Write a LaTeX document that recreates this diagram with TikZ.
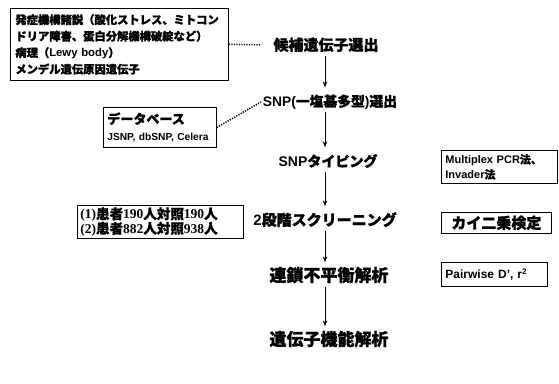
\documentclass[tikz,border=0pt]{standalone}
\usepackage{fontspec}
\setmainfont{Liberation Sans}
\newfontfamily\jp{Noto Sans CJK JP}[BoldFeatures={FakeBold=1.2}]
\newfontfamily\serifb{Liberation Serif}
\usetikzlibrary{arrows.meta}
\newcommand{\jtxt}[1]{{\jp\bfseries #1}}
\newcommand{\stxt}[1]{{\serifb\bfseries #1}}
\tikzset{
  mainlabel/.style={font=\bfseries\fontsize{15}{15}\selectfont, inner sep=0pt,
    text height=13pt, text depth=2pt},
  infobox/.style={draw, line width=0.8pt, inner xsep=4pt, inner ysep=2pt,
    align=left, anchor=north west, font=\bfseries},
  arr/.style={-{Stealth[length=6pt,width=4.5pt]}, line width=0.6pt,
    shorten <=3pt, shorten >=6pt},
  dotline/.style={line width=1.5pt, dash pattern=on 1.2pt off 1.3pt}
}
\begin{document}
\begin{tikzpicture}[x=1pt,y=-1pt]
\useasboundingbox (0,0) rectangle (559,383);
\coordinate (ax) at (325,0);
% main chain
\node[mainlabel] (n1) at (326,45) {\jtxt{候補遺伝子選出}};
\node[mainlabel, font=\bfseries\fontsize{13.8}{14}\selectfont] (n2) at (330,101) {SNP(\jtxt{一塩基多型})\jtxt{選出}};
\node[mainlabel, font=\bfseries\fontsize{14}{14}\selectfont] (n3) at (328,161) {SNP\jtxt{タイピング}};
\node[mainlabel] (n4) at (325,220) {2\jtxt{段階スクリーニング}};
\node[mainlabel, font=\bfseries\fontsize{17}{17}\selectfont] (n5) at (329,276) {\jtxt{連鎖不平衡解析}};
\node[mainlabel, font=\bfseries\fontsize{17}{17}\selectfont] (n6) at (329,340) {\jtxt{遺伝子機能解析}};
\foreach \a/\b in {n1/n2,n2/n3,n3/n4,n4/n5,n5/n6}
  \draw[arr] (\a.south -| ax) -- (\b.north -| ax);
% side boxes
\node[infobox, minimum width=218pt, minimum height=72pt, text width=208pt,
  font=\jp\bfseries\fontsize{11.3}{16.5}\selectfont] (b1) at (10,8)
  {発症機構諸説（酸化ストレス、ミトコン\\ドリア障害、蛋白分解機構破綻など）\\病理（\textrm{Lewy body}）\\メンデル遺伝原因遺伝子};
\node[infobox, minimum width=113pt, minimum height=40pt, text width=105pt,
  font=\bfseries\fontsize{10.2}{17}\selectfont] (b2) at (103,107)
  {\jtxt{\fontsize{13}{17}\selectfont データベース}\\\mbox{JSNP, dbSNP, Celera}};
\node[infobox, minimum width=116pt, minimum height=33pt, text width=108pt,
  font=\bfseries\fontsize{11}{15}\selectfont] (b3) at (441,150)
  {Multiplex PCR\jtxt{法、}\\Invader\jtxt{法}};
\node[infobox, minimum width=166pt, minimum height=33pt, text width=160pt,
  inner xsep=3pt, inner ysep=1pt,
  font=\bfseries\fontsize{13.5}{14.5}\selectfont] (b4) at (77,205)
  {\stxt{(1)}\jtxt{患者}\stxt{190}\jtxt{人対照}\stxt{190}\jtxt{人}\\\stxt{(2)}\jtxt{患者}\stxt{882}\jtxt{人対照}\stxt{938}\jtxt{人}};
\node[infobox, minimum width=110pt, minimum height=21pt, align=center,
  inner ysep=0pt,
  font=\jp\bfseries\fontsize{15}{15}\selectfont] (b5) at (441,212)
  {カイ二乗検定};
\node[infobox, minimum width=106pt, minimum height=24pt, text width=98pt,
  font=\bfseries\fontsize{12}{12}\selectfont] (b6) at (441,262)
  {Pairwise D', r\textsuperscript{2}};
% dotted connectors
\draw[dotline, shorten >=13pt] (b1.east) -- (n1.west);
\draw[dotline, shorten >=2pt] (b2.east) -- (n2.west);
\end{tikzpicture}
\end{document}
